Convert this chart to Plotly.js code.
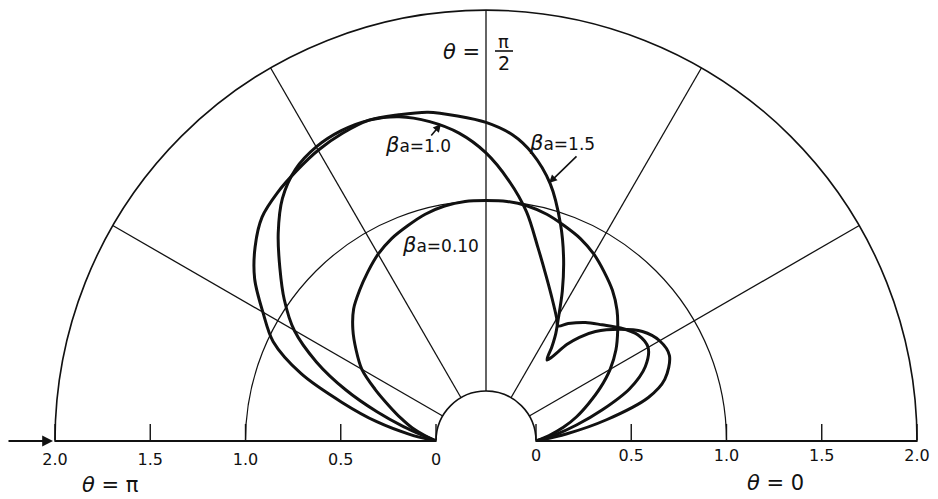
<!DOCTYPE html>
<html>
<head>
<meta charset="utf-8">
<script src="https://cdn.plot.ly/plotly-3.0.1.min.js"></script>
<style>
  html, body { margin: 0; padding: 0; background: #ffffff; }
  #chart { width: 938px; height: 499px; }
</style>
</head>
<body>
<div id="chart"></div>
<script>
// Field patterns, angle theta in degrees (0 = right, 180 = left)
const thetaBa010 = [0, 5, 10, 15, 20, 25, 30, 35, 40, 45, 50, 55, 60, 65, 70, 75, 80, 85, 90,
                    95, 100, 105, 110, 115, 120, 125, 130, 135, 140, 145, 150, 155, 160, 165, 170, 175, 180];
const rBa010     = [0, 0.07, 0.15, 0.23, 0.31, 0.40, 0.49, 0.57, 0.64, 0.71, 0.77, 0.82, 0.87, 0.91, 0.94, 0.97, 0.99, 1.0, 1.0,
                    1.0, 0.99, 0.97, 0.94, 0.91, 0.87, 0.82, 0.77, 0.72, 0.65, 0.57, 0.49, 0.38, 0.28, 0.20, 0.13, 0.06, 0];

const thetaBa10 = [0, 5, 10, 15, 20, 25, 30, 35, 40, 45, 50, 55, 58, 60, 65, 70, 75, 80, 85, 90,
                   95, 100, 105, 110, 115, 120, 125, 130, 135, 140, 145, 150, 155, 160, 165, 170, 175, 180];
const rBa10     = [0, 0.10, 0.22, 0.37, 0.54, 0.66, 0.72, 0.71, 0.66, 0.60, 0.55, 0.49, 0.45, 0.48, 0.56, 0.66, 0.79, 0.96, 1.11, 1.25,
                   1.36, 1.44, 1.50, 1.53, 1.535, 1.52, 1.48, 1.40, 1.28, 1.15, 1.03, 0.90, 0.72, 0.52, 0.33, 0.18, 0.07, 0];

const thetaBa15 = [0, 5, 10, 15, 19, 25, 30, 35, 40, 45, 48, 50, 53, 55, 57, 59, 63, 67, 71, 76, 81, 85, 90,
                   95, 100, 105, 110, 115, 120, 125, 130, 135, 140, 145, 150, 155, 160, 165, 170, 175, 180];
const rBa15     = [0, 0.16, 0.38, 0.62, 0.73, 0.80, 0.79, 0.74, 0.65, 0.55, 0.47, 0.40, 0.27, 0.34, 0.41, 0.47, 0.62, 0.78, 0.94, 1.13, 1.27, 1.35, 1.41,
                   1.45, 1.49, 1.51, 1.53, 1.52, 1.50, 1.47, 1.44, 1.40, 1.32, 1.22, 1.09, 0.97, 0.77, 0.52, 0.32, 0.14, 0];

// Axis labels along the base line
const radialTicks  = [0, 0.5, 1, 1.5, 2];
const radialLabels = ['0', '0.5', '1.0', '1.5', '2.0'];
const referenceCircle = [1];

const ink = '#111111';
const labelFont = { family: 'DejaVu Sans, Arial, sans-serif', size: 16, color: ink };

function curve(theta, r) {
  return {
    type: 'scatterpolar', mode: 'lines', subplot: 'polar',
    theta: theta, r: r,
    line: { color: ink, width: 3, shape: 'spline', smoothing: 0.9 },
    hoverinfo: 'skip', showlegend: false
  };
}

function placeholder(subplot) {
  return {
    type: 'scatterpolar', mode: 'markers', subplot: subplot,
    theta: [0], r: [0], marker: { opacity: 0, size: 1 },
    hoverinfo: 'skip', showlegend: false
  };
}

const data = [
  curve(thetaBa010, rBa010),
  curve(thetaBa10, rBa10),
  curve(thetaBa15, rBa15),
  placeholder('polar2'),
  placeholder('polar3')
];

const hole = 0.116;
const baseRadial = {
  range: [0, 2],
  tickmode: 'array', tickvals: radialTicks, ticktext: radialLabels,
  ticks: 'inside', ticklen: 16, tickwidth: 1.4, tickcolor: ink,
  tickfont: labelFont,
  showline: true, linecolor: ink, linewidth: 2.2,
  showgrid: false
};
const hiddenAngular = {
  rotation: 0, direction: 'counterclockwise',
  showline: false, showgrid: false, showticklabels: false, ticks: ''
};

// Map pixel positions to paper coordinates of the plot area
const px = x => (x - 55) / 862;
const py = y => (441 - y) / 431;

const textFont = { family: 'DejaVu Sans, Arial, sans-serif', size: 17, color: ink };
const bigFont = { family: 'DejaVu Sans, Arial, sans-serif', size: 21, color: ink };
const beta = '<span style="font-size:21px"><i>β</i></span>';

const layout = {
  width: 938, height: 499,
  margin: { l: 55, r: 21, t: 10, b: 58 },
  paper_bgcolor: '#ffffff',
  showlegend: false,
  polar: {
    domain: { x: [0, 1], y: [0, 1] },
    sector: [0, 180], hole: hole, bgcolor: 'rgba(0,0,0,0)',
    radialaxis: Object.assign({}, baseRadial, { angle: 0, side: 'clockwise' }),
    angularaxis: {
      rotation: 0, direction: 'counterclockwise',
      tickmode: 'linear', tick0: 0, dtick: 30,
      showgrid: true, gridcolor: ink, gridwidth: 1.3,
      showline: true, linecolor: ink, linewidth: 1.6,
      showticklabels: false, ticks: ''
    }
  },
  polar2: {
    domain: { x: [0, 1], y: [0, 1] },
    sector: [0, 180], hole: hole, bgcolor: 'rgba(0,0,0,0)',
    radialaxis: Object.assign({}, baseRadial, { angle: 180, side: 'counterclockwise', tickangle: 180 }),
    angularaxis: hiddenAngular
  },
  polar3: {
    domain: { x: [0, 1], y: [0, 1] },
    sector: [0, 180], hole: hole, bgcolor: 'rgba(0,0,0,0)',
    radialaxis: {
      range: [0, 2], tickmode: 'array', tickvals: referenceCircle,
      showticklabels: false, ticks: '', showline: false,
      showgrid: true, gridcolor: ink, gridwidth: 1.2
    },
    angularaxis: hiddenAngular
  },
  annotations: [
    { xref: 'paper', yref: 'paper', x: px(482), y: py(52), xanchor: 'right', yanchor: 'middle',
      text: '<i>θ</i> =', showarrow: false, font: bigFont },
    { xref: 'paper', yref: 'paper', x: px(504), y: py(41), xanchor: 'center', yanchor: 'middle',
      text: 'π', showarrow: false, font: { family: 'DejaVu Sans', size: 18, color: ink } },
    { xref: 'paper', yref: 'paper', x: px(504), y: py(63), xanchor: 'center', yanchor: 'middle',
      text: '2', showarrow: false, font: { family: 'DejaVu Sans', size: 19, color: ink } },
    { xref: 'paper', yref: 'paper', x: px(110), y: py(485), xanchor: 'center', yanchor: 'middle',
      text: '<i>θ</i> = π', showarrow: false, font: bigFont },
    { xref: 'paper', yref: 'paper', x: px(775), y: py(483), xanchor: 'center', yanchor: 'middle',
      text: '<i>θ</i> = 0', showarrow: false, font: bigFont },
    { xref: 'paper', yref: 'paper', x: px(418), y: py(145), xanchor: 'center', yanchor: 'middle',
      text: beta + 'a=1.0', showarrow: false, font: textFont },
    { xref: 'paper', yref: 'paper', x: px(562), y: py(143), xanchor: 'center', yanchor: 'middle',
      text: beta + 'a=1.5', showarrow: false, font: textFont },
    { xref: 'paper', yref: 'paper', x: px(440), y: py(245), xanchor: 'center', yanchor: 'middle',
      text: beta + 'a=0.10', showarrow: false, font: textFont },
    { xref: 'paper', yref: 'paper', x: px(441), y: py(124), ax: -11, ay: 13,
      text: '', showarrow: true, arrowhead: 2, arrowsize: 1, arrowwidth: 1.6, arrowcolor: ink },
    { xref: 'paper', yref: 'paper', x: px(549), y: py(183), ax: 29, ay: -28,
      text: '', showarrow: true, arrowhead: 2, arrowsize: 1, arrowwidth: 1.6, arrowcolor: ink },
    { xref: 'paper', yref: 'paper', x: px(53), y: py(441), ax: -46, ay: 0,
      text: '', showarrow: true, arrowhead: 2, arrowsize: 1.2, arrowwidth: 1.8, arrowcolor: ink }
  ],
  shapes: [
    { type: 'line', xref: 'paper', yref: 'paper', x0: px(495), x1: px(513), y0: py(51), y1: py(51),
      line: { color: ink, width: 1.6 } }
  ]
};

Plotly.newPlot('chart', data, layout, { staticPlot: true, displayModeBar: false });
</script>
</body>
</html>
